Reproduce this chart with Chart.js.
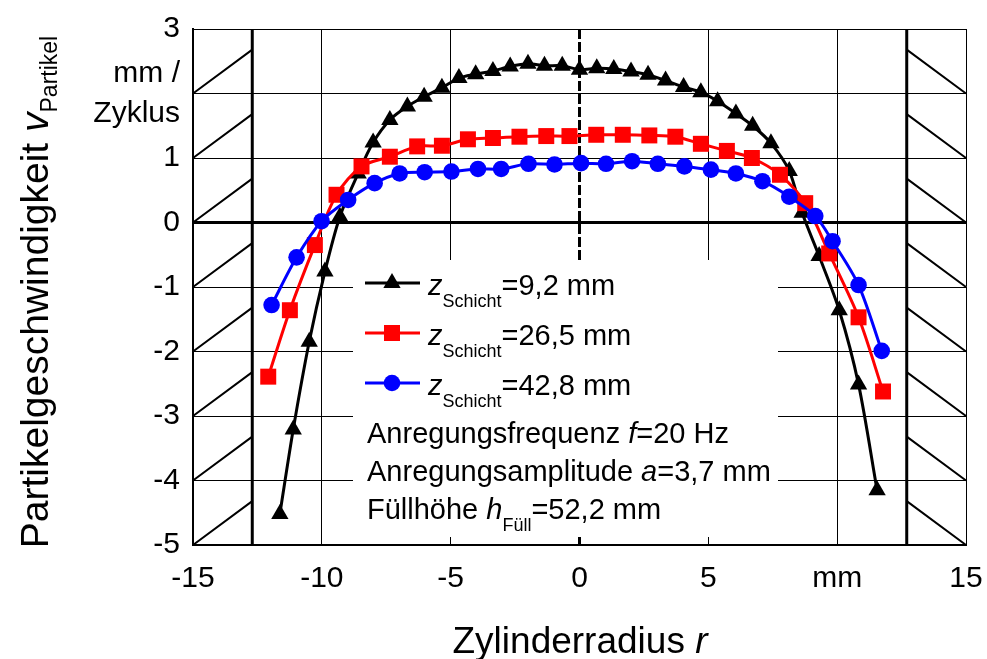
<!DOCTYPE html>
<html>
<head>
<meta charset="utf-8">
<script src="https://cdn.jsdelivr.net/npm/chart.js@4.4.1/dist/chart.umd.min.js"></script>
<style>
  html, body { margin: 0; padding: 0; background: #fff; }
  #wrap { width: 987px; height: 659px; }
</style>
</head>
<body>
<div id="wrap"><canvas id="velocityChart" width="987" height="659"></canvas></div>
<script>
// Partikelgeschwindigkeit über dem Zylinderradius, drei Schichthöhen
const rBlack = [-11.63, -11.11, -10.49, -9.88, -9.30, -8.59, -8.01, -7.36, -6.68, -6.03, -5.34, -4.68,
  -4.03, -3.36, -2.69, -2.00, -1.36, -0.67, 0.00, 0.67, 1.33, 2.00, 2.66, 3.34,
  4.04, 4.71, 5.36, 6.07, 6.72, 7.43, 8.14, 8.64, 9.30, 10.08, 10.83, 11.55];
const vBlack = [-4.52, -3.21, -1.85, -0.76, 0.09, 0.76, 1.24, 1.59, 1.80, 1.95, 2.09, 2.24,
  2.30, 2.35, 2.42, 2.46, 2.43, 2.43, 2.37, 2.39, 2.38, 2.34, 2.29, 2.20,
  2.10, 2.02, 1.88, 1.69, 1.50, 1.23, 0.80, 0.15, -0.52, -1.36, -2.51, -4.15];

const rRed = [-12.08, -11.24, -10.27, -9.43, -8.46, -7.36, -6.30, -5.34, -4.33, -3.36, -2.33, -1.29,
  -0.39, 0.65, 1.68, 2.71, 3.72, 4.71, 5.72, 6.69, 7.78, 8.76, 9.69, 10.83, 11.78];
const vRed = [-2.39, -1.36, -0.35, 0.43, 0.87, 1.02, 1.18, 1.19, 1.29, 1.31, 1.33, 1.34,
  1.34, 1.36, 1.36, 1.35, 1.33, 1.22, 1.11, 1.00, 0.74, 0.30, -0.48, -1.47, -2.62];

const rBlue = [-11.95, -10.98, -10.01, -8.98, -7.95, -6.98, -6.01, -4.97, -3.94, -3.04, -1.98, -0.97,
  0.06, 1.03, 2.04, 3.04, 4.07, 5.10, 6.07, 7.10, 8.14, 9.15, 9.82, 10.83, 11.73];
const vBlue = [-1.28, -0.54, 0.02, 0.35, 0.61, 0.76, 0.78, 0.79, 0.83, 0.83, 0.91, 0.90,
  0.92, 0.91, 0.95, 0.91, 0.87, 0.82, 0.76, 0.64, 0.40, 0.10, -0.29, -0.97, -1.99];

const seriesNames = ['=9,2 mm', '=26,5 mm', '=42,8 mm'];
const infoLines = [
  [['Anregungsfrequenz ', ''], ['f', 'i'], ['=20 Hz', '']],
  [['Anregungsamplitude ', ''], ['a', 'i'], ['=3,7 mm', '']],
  [['Füllhöhe ', ''], ['h', 'i'], ['Füll', 's'], ['=52,2 mm', '']]
];

// Zylinderwand bei r = ±12,7 mm
const wallR = 12.7;

const FONT = '"Liberation Sans", Arial, sans-serif';

const toPoints = (xs, ys) => xs.map((x, i) => ({ x: x, y: ys[i] }));

function runFont(kind, size, subSize) {
  if (kind === 's') return subSize + 'px ' + FONT;
  return (kind === 'i' ? 'italic ' : '') + size + 'px ' + FONT;
}

// draws a row of text pieces: '' normal, 'i' italic, 's' subscript
function drawRuns(ctx, x, y, runs, size, subSize, subDy) {
  for (const [text, kind] of runs) {
    ctx.font = runFont(kind, size, subSize);
    ctx.fillText(text, x, kind === 's' ? y + subDy : y);
    x += ctx.measureText(text).width;
  }
  return x;
}

function runsWidth(ctx, runs, size, subSize) {
  let w = 0;
  for (const [text, kind] of runs) {
    ctx.font = runFont(kind, size, subSize);
    w += ctx.measureText(text).width;
  }
  return w;
}

function marker(ctx, style, cx, cy, color) {
  ctx.fillStyle = color;
  ctx.beginPath();
  if (style === 'triangle') {
    const r = 10;
    ctx.moveTo(cx, cy - r);
    ctx.lineTo(cx + r * 0.866, cy + r / 2);
    ctx.lineTo(cx - r * 0.866, cy + r / 2);
    ctx.closePath();
  } else if (style === 'rect') {
    ctx.rect(cx - 8, cy - 8, 16, 16);
  } else {
    ctx.arc(cx, cy, 8.3, 0, Math.PI * 2);
  }
  ctx.fill();
}

// keep the plot area fixed: no extra room for the outer tick labels
function noLabelPadding(s) {
  s.paddingLeft = 0;
  s.paddingRight = 0;
  s.paddingTop = 0;
  s.paddingBottom = 0;
}

const decor = {
  id: 'decor',
  beforeDatasetsDraw(chart) {
    const { ctx, chartArea: a, scales: { x, y } } = chart;
    ctx.save();
    ctx.strokeStyle = '#000';
    ctx.lineCap = 'butt';

    // schraffierte Wandbereiche
    ctx.lineWidth = 2;
    for (let k = -5; k < 3; k++) {
      ctx.beginPath();
      ctx.moveTo(x.getPixelForValue(-15), y.getPixelForValue(k));
      ctx.lineTo(x.getPixelForValue(-wallR), y.getPixelForValue(k + 0.68));
      ctx.moveTo(x.getPixelForValue(wallR), y.getPixelForValue(k + 0.68));
      ctx.lineTo(x.getPixelForValue(15), y.getPixelForValue(k));
      ctx.stroke();
    }
    ctx.lineWidth = 3;
    for (const w of [-wallR, wallR]) {
      ctx.beginPath();
      ctx.moveTo(x.getPixelForValue(w), a.top);
      ctx.lineTo(x.getPixelForValue(w), a.bottom);
      ctx.stroke();
    }

    // Symmetrieachse
    ctx.setLineDash([10, 3]);
    ctx.beginPath();
    ctx.moveTo(x.getPixelForValue(0), a.top);
    ctx.lineTo(x.getPixelForValue(0), a.bottom);
    ctx.stroke();
    ctx.setLineDash([]);

    // Legendenfeld
    ctx.fillStyle = '#fff';
    ctx.fillRect(353, 260, 425, 277);
    ctx.restore();
  },
  afterDraw(chart) {
    const { ctx } = chart;
    const ds = chart.data.datasets;
    ctx.save();
    ctx.fillStyle = '#000';
    ctx.textBaseline = 'alphabetic';

    // Legende
    for (let i = 0; i < ds.length; i++) {
      const ly = 283 + i * 50;
      ctx.strokeStyle = ds[i].borderColor;
      ctx.lineWidth = 3;
      ctx.beginPath();
      ctx.moveTo(365, ly);
      ctx.lineTo(420, ly);
      ctx.stroke();
      marker(ctx, ds[i].pointStyle, 392, ly, ds[i].borderColor);
      ctx.fillStyle = '#000';
      drawRuns(ctx, 428, ly + 12, [['z', 'i'], ['Schicht', 's'], [seriesNames[i], '']], 29, 18, 12);
    }
    const infoBase = [443, 481, 519];
    infoLines.forEach((runs, i) => drawRuns(ctx, 367, infoBase[i], runs, 29, 18, 12));

    // x-Achsentitel
    const xt = [['Zylinderradius ', ''], ['r', 'i']];
    const xw = runsWidth(ctx, xt, 37, 22);
    drawRuns(ctx, 580 - xw / 2, 653, xt, 37, 22, 12);

    // y-Achsentitel
    const yt = [['Partikelgeschwindigkeit ', ''], ['v', 'i'], ['Partikel', 's']];
    const yw = runsWidth(ctx, yt, 39, 23);
    ctx.translate(48, 292);
    ctx.rotate(-Math.PI / 2);
    drawRuns(ctx, -yw / 2, 0, yt, 39, 23, 9);
    ctx.restore();
  }
};

const tickFont = { family: FONT, size: 30 };

new Chart(document.getElementById('velocityChart'), {
  type: 'scatter',
  data: {
    datasets: [
      {
        data: toPoints(rBlack, vBlack),
        borderColor: '#000000', backgroundColor: '#000000',
        pointStyle: 'triangle', pointRadius: 10, order: 3
      },
      {
        data: toPoints(rRed, vRed),
        borderColor: '#ff0000', backgroundColor: '#ff0000',
        pointStyle: 'rect', pointRadius: 11.3, order: 2
      },
      {
        data: toPoints(rBlue, vBlue),
        borderColor: '#0000ff', backgroundColor: '#0000ff',
        pointStyle: 'circle', pointRadius: 8.3, order: 1
      }
    ].map(d => Object.assign(d, {
      showLine: true, borderWidth: 3, tension: 0.3,
      pointBorderWidth: 0, pointHoverRadius: d.pointRadius
    }))
  },
  options: {
    responsive: false,
    animation: false,
    devicePixelRatio: 1,
    layout: { padding: { top: 29, right: 21, left: 0, bottom: 0 } },
    plugins: { legend: { display: false }, tooltip: { enabled: false } },
    scales: {
      x: {
        type: 'linear', min: -15, max: 15,
        afterFit: s => { s.height = 114; noLabelPadding(s); },
        ticks: {
          stepSize: 5, color: '#000', padding: 16, autoSkip: false, maxRotation: 0,
          font: Object.assign({ lineHeight: 1.2 }, tickFont),
          callback: v => (v === 10 ? 'mm' : String(v))
        },
        grid: {
          drawTicks: false, lineWidth: 1,
          color: c => (c.tick && c.tick.value === 0 ? 'rgba(0,0,0,0)' : '#000')
        },
        border: { color: '#000', width: 2 }
      },
      y: {
        type: 'linear', min: -5, max: 3,
        afterFit: s => { s.width = 193; noLabelPadding(s); },
        ticks: {
          stepSize: 1, color: '#000', padding: 13, autoSkip: false,
          font: Object.assign({ lineHeight: 1.35 }, tickFont),
          callback: v => (v === 2 ? ['mm /', 'Zyklus'] : String(v))
        },
        grid: {
          drawTicks: false, color: '#000',
          lineWidth: c => (c.tick && c.tick.value === 0 ? 3 : 1)
        },
        border: { color: '#000', width: 2 }
      }
    }
  },
  plugins: [decor]
});
</script>
</body>
</html>
